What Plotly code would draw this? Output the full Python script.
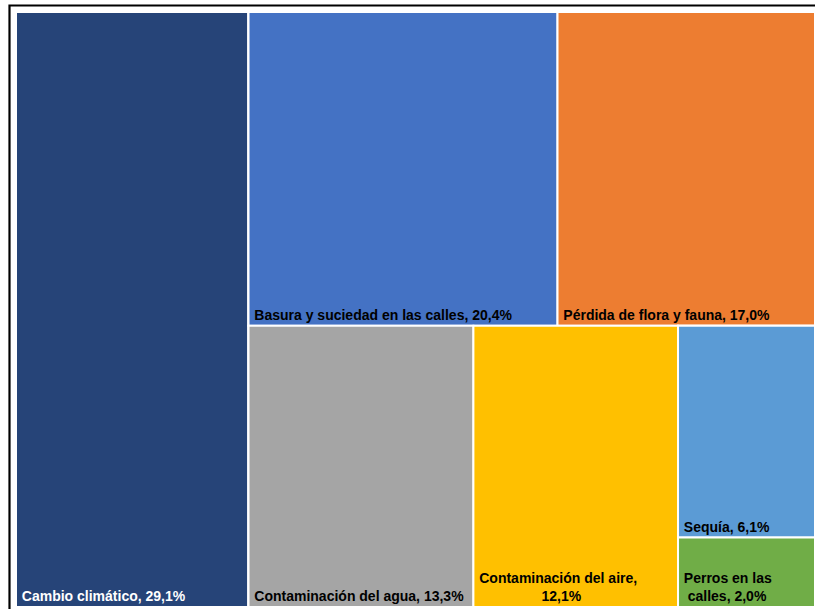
import plotly.graph_objects as go

# ---- data ----
categories = ["Cambio climático", "Basura y suciedad en las calles", "Pérdida de flora y fauna",
              "Contaminación del agua", "Contaminación del aire", "Sequía", "Perros en las calles"]
values = [29.1, 20.4, 17.0, 13.3, 12.1, 6.1, 2.0]
colors = ["#264478", "#4472C4", "#ED7D31", "#A5A5A5", "#FFC000", "#5B9BD5", "#70AD47"]
text_colors = ["white", "black", "black", "black", "black", "black", "black"]
# first line / second line of each label
line1 = ["Cambio climático, ", "Basura y suciedad en las calles, ", "Pérdida de flora y fauna, ",
         "Contaminación del agua, ", "Contaminación del aire,", "Sequía, ", "Perros en las"]
line2_prefix = ["", "", "", "", "", "", "calles, "]
second_line_indent = [0, 0, 0, 0, 16, 0, 1]
# layout hierarchy (groups reproduce the reference tiling)
leaf_parent = ["root", "top", "top", "bottom", "bottom", "sp", "sp"]
groups = ["root", "right", "top", "bottom", "sp"]
group_parent = ["", "root", "right", "right", "bottom"]

LEAD = "\u2009"  # small lead-in space so labels sit a little inside the tile


def pct(v):
    return f"{v:.1f}".replace(".", ",") + "%"


def label_text(i):
    v = pct(values[i])
    if second_line_indent[i] or line2_prefix[i]:
        return (LEAD + line1[i] + "<br>" + LEAD + "\u00a0" * second_line_indent[i]
                + line2_prefix[i] + v)
    return LEAD + line1[i] + v


order = [("g", 0), ("l", 0), ("g", 1), ("g", 2), ("l", 1), ("l", 2),
         ("g", 3), ("l", 3), ("l", 4), ("g", 4), ("l", 5), ("l", 6)]

ids, labels, parents, vals, texts, mcolors, tcolors = [], [], [], [], [], [], []
for kind, i in order:
    if kind == "g":
        ids.append(groups[i]); labels.append(groups[i]); parents.append(group_parent[i])
        vals.append(0); texts.append(""); mcolors.append("white"); tcolors.append("black")
    else:
        ids.append(categories[i]); labels.append(categories[i]); parents.append(leaf_parent[i])
        vals.append(values[i]); texts.append(label_text(i)); mcolors.append(colors[i])
        tcolors.append(text_colors[i])

W, H = 815, 609
ML, MR, MT, MB = 16, 0, 12, 2
pw, ph = W - ML - MR, H - MT - MB
frame_x, frame_y = 9.5, 5.5  # frame line position in pixels

fig = go.Figure(go.Treemap(
    ids=ids, labels=labels, parents=parents, values=vals,
    branchvalues="remainder", sort=False,
    text=texts, textinfo="text", textposition="bottom left",
    textfont=dict(family="Liberation Sans", size=14, color=tcolors, weight="bold"),
    marker=dict(colors=mcolors, line=dict(color="white", width=2),
                pad=dict(t=0, l=0, r=0, b=0)),
    tiling=dict(packing="slice-dice", pad=0),
    pathbar=dict(visible=False),
    hoverinfo="skip",
))

fig.update_layout(
    width=W, height=H,
    margin=dict(l=ML, r=MR, t=MT, b=MB),
    paper_bgcolor="white",
    shapes=[dict(type="rect", xref="paper", yref="paper",
                 x0=(frame_x - ML) / pw, y0=-0.05, x1=1.05, y1=1 + (MT - frame_y) / ph,
                 line=dict(color="black", width=2.2), fillcolor="rgba(0,0,0,0)")],
)
fig.write_html("out.html", config={"displayModeBar": False},
               post_script="document.body.style.margin='0';")
